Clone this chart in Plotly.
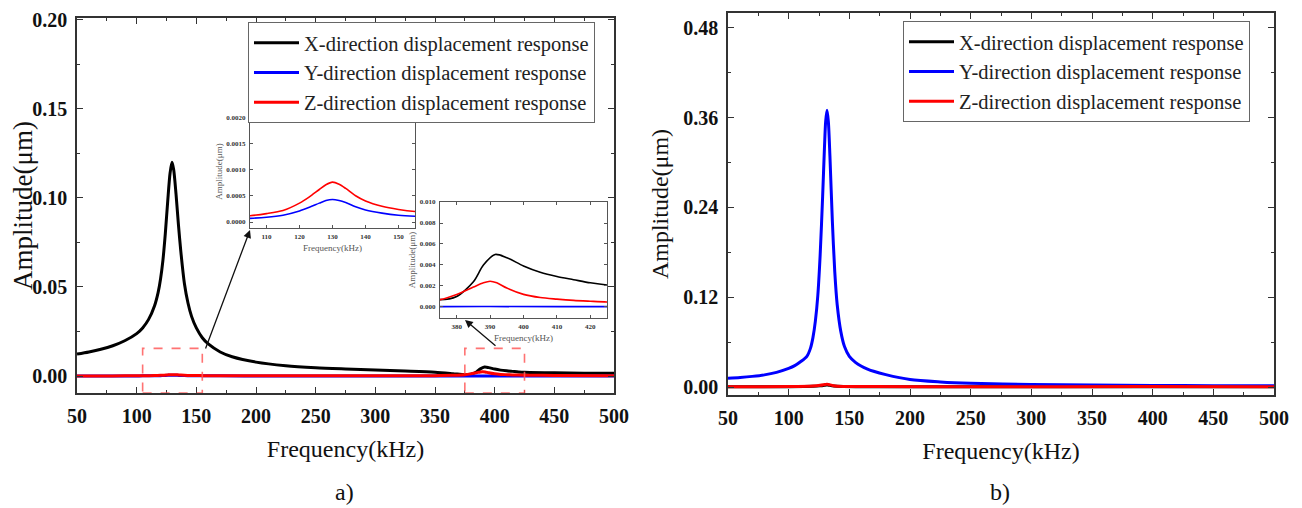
import plotly.graph_objects as go

# The page body has an 8px margin, so the figure is sized and positioned to compensate.
OFF = 8
W, H = 1302 - OFF, 508 - OFF
FONT = "Liberation Serif"

# ---------------- data: panel a) ----------------
freq_a_x = [50, 60, 70, 80, 90, 100, 105, 110, 115, 118, 120, 122, 124, 126, 128, 129.6, 131, 133, 135, 137,
            140, 143, 146, 150, 155, 160, 170, 180, 200, 225, 250, 275, 300, 325, 350, 365, 375, 380, 385,
            388, 391.5, 395, 400, 405, 410, 415, 420, 425, 450, 475, 500]
amp_a_x = [0.0123, 0.0135, 0.0150, 0.0170, 0.0198, 0.0238, 0.0270, 0.0318, 0.0395, 0.0470, 0.0545, 0.0650,
           0.0800, 0.0980, 0.1140, 0.1200, 0.1160, 0.1020, 0.0850, 0.0700, 0.0520, 0.0410, 0.0335, 0.0270,
           0.0215, 0.0180, 0.0135, 0.0108, 0.0078, 0.0058, 0.0047, 0.0040, 0.0034, 0.0028, 0.0021, 0.0013,
           0.0007, 0.0010, 0.0024, 0.0040, 0.0050, 0.0047, 0.0039, 0.0033, 0.0029, 0.0026, 0.0023, 0.0021,
           0.0018, 0.0016, 0.0015]

freq_a_y = [50, 70, 90, 100, 105, 110, 115, 120, 123, 126, 128, 130, 132, 134, 137, 140, 145, 150, 155, 170,
            200, 300, 375, 390, 425, 500]
amp_a_y = [0.00003, 0.00004, 0.00005, 0.00006, 0.00007, 0.00009, 0.00013, 0.00021, 0.00028, 0.00036, 0.00041,
           0.00043, 0.00041, 0.00037, 0.00029, 0.00023, 0.00017, 0.00013, 0.00011, 0.00008, 0.00006, 0.00004,
           0.00003, 0.00004, 0.00003, 0.00002]

freq_a_z = [50, 70, 90, 100, 105, 110, 115, 120, 123, 126, 128, 130, 132, 134, 137, 140, 145, 150, 155, 170,
            200, 250, 300, 350, 365, 375, 380, 385, 388, 390, 392, 395, 400, 405, 410, 415, 420, 425, 450, 500]
amp_a_z = [0.00005, 0.00006, 0.00008, 0.00010, 0.00012, 0.00016, 0.00022, 0.00036, 0.00048, 0.00062, 0.00071,
           0.00076, 0.00072, 0.00064, 0.00050, 0.00040, 0.00030, 0.00024, 0.00020, 0.00015, 0.00012, 0.00010,
           0.00012, 0.00020, 0.00040, 0.00070, 0.00120, 0.00190, 0.00230, 0.00245, 0.00230, 0.00180, 0.00120,
           0.00090, 0.00075, 0.00063, 0.00055, 0.00048, 0.00030, 0.00020]

# ---------------- data: panel b) ----------------
freq_b_x = [50, 100, 120, 126, 130, 131.6, 133, 137, 145, 170, 250, 390, 500]
amp_b_x = [0.0002, 0.0004, 0.0009, 0.0015, 0.0024, 0.0028, 0.0024, 0.0013, 0.0007, 0.0004, 0.0003, 0.0004, 0.0002]

freq_b_y = [50, 60, 70, 80, 90, 100, 105, 110, 115, 118, 120, 122, 124, 126, 128, 129.5, 130.5, 131.6, 132.7,
            134, 136, 138, 140, 143, 146, 150, 155, 160, 165, 170, 180, 200, 225, 250, 300, 350, 400, 450, 500]
amp_b_y = [0.0118, 0.0128, 0.0142, 0.0162, 0.0196, 0.0248, 0.0285, 0.0340, 0.0410, 0.0520, 0.0660, 0.0880,
           0.1220, 0.1780, 0.2550, 0.3200, 0.3550, 0.3700, 0.3550, 0.3090, 0.2220, 0.1540, 0.1100, 0.0740,
           0.0540, 0.0410, 0.0330, 0.0278, 0.0240, 0.0210, 0.0165, 0.0100, 0.0068, 0.0050, 0.0034, 0.0026,
           0.0021, 0.0017, 0.0015]

freq_b_z = [50, 100, 120, 126, 130, 131.6, 133, 137, 145, 170, 250, 390, 500]
amp_b_z = [0.0003, 0.0005, 0.0012, 0.0022, 0.0034, 0.0038, 0.0034, 0.0018, 0.0008, 0.0005, 0.0003, 0.0005, 0.0002]

series_names = ["X-direction displacement response",
                "Y-direction displacement response",
                "Z-direction displacement response"]
series_colors = ["#000000", "#0000ff", "#ff0000"]

panel_a = [(freq_a_x, amp_a_x), (freq_a_y, amp_a_y), (freq_a_z, amp_a_z)]
panel_b = [(freq_b_x, amp_b_x), (freq_b_y, amp_b_y), (freq_b_z, amp_b_z)]

fig = go.Figure()

for i, (fx, fy) in enumerate(panel_a):
    fig.add_trace(go.Scatter(x=fx, y=fy, mode="lines", name=series_names[i],
                             line=dict(color=series_colors[i], width=3, shape="spline", smoothing=0.8),
                             xaxis="x", yaxis="y", legend="legend"))
for i, (fx, fy) in enumerate(panel_b):
    fig.add_trace(go.Scatter(x=fx, y=fy, mode="lines", name=series_names[i],
                             line=dict(color=series_colors[i], width=3, shape="spline", smoothing=0.8),
                             xaxis="x2", yaxis="y2", legend="legend2"))
# insets (only panel a)
for i, (fx, fy) in enumerate(panel_a):
    if i == 0:
        continue
    fig.add_trace(go.Scatter(x=fx, y=fy, mode="lines", showlegend=False,
                             line=dict(color=series_colors[i], width=1.6, shape="spline", smoothing=0.8),
                             xaxis="x3", yaxis="y3"))
for i, (fx, fy) in enumerate(panel_a):
    fig.add_trace(go.Scatter(x=fx, y=fy, mode="lines", showlegend=False,
                             line=dict(color=series_colors[i], width=1.6, shape="spline", smoothing=0.8),
                             xaxis="x4", yaxis="y4"))


def px_x(v):
    return (v - OFF) / W


def px_y(v):
    return 1 - (v - OFF) / H


def xd(l, r):
    return [px_x(l), px_x(r)]


def yd(t, b):
    return [px_y(b), px_y(t)]


def main_axis(domain, rng, dtick, minor, fmt, title, tsize, standoff, anchor):
    return dict(domain=domain, range=rng, dtick=dtick, tick0=0, tickformat=fmt,
                showline=True, linecolor="#333333", linewidth=1.5, mirror="ticks",
                ticks="inside", ticklen=6, tickwidth=1.3, tickcolor="#333333",
                minor=dict(ticks="inside", ticklen=3, dtick=minor, tickwidth=1.2, tickcolor="#333333"),
                showgrid=False, zeroline=False, automargin=False, anchor=anchor,
                tickfont=dict(family=FONT, size=20, color="#111111", weight="bold"),
                ticklabelstandoff=4, ticklabeloverflow="allow",
                title=dict(text=title, font=dict(family=FONT, size=tsize, color="#111111"), standoff=standoff))


def inset_axis(domain, rng, dtick, fmt, title, standoff, anchor):
    return dict(domain=domain, range=rng, dtick=dtick, tick0=0, tickformat=fmt,
                showline=True, linecolor="#555555", linewidth=1, mirror="ticks",
                ticks="inside", ticklen=3, tickwidth=1, tickcolor="#555555",
                showgrid=False, zeroline=False, automargin=False, anchor=anchor,
                tickfont=dict(family=FONT, size=7, color="#333333", weight="bold"),
                ticklabelstandoff=2, ticklabeloverflow="allow",
                title=dict(text=title, font=dict(family=FONT, size=9, color="#555555"), standoff=standoff))


fig.update_layout(
    width=W, height=H, margin=dict(l=0, r=0, t=0, b=0),
    paper_bgcolor="white", plot_bgcolor="white",
    font=dict(family=FONT),
    xaxis=main_axis(xd(77, 614), [50, 500], 50, 25, "d", "Frequency(kHz)", 24, 14, "y"),
    yaxis=main_axis(yd(18, 393), [-0.00955, 0.2011], 0.05, 0.025, ".2f", "Amplitude(μm)", 27, 4, "x"),
    xaxis2=main_axis(xd(728, 1274), [50, 500], 50, 25, "d", "Frequency(kHz)", 24, 14, "y2"),
    yaxis2=main_axis(yd(13, 395), [-0.0107, 0.50], 0.12, 0.06, ".2f", "Amplitude(μm)", 24, 8, "x2"),
    xaxis3=inset_axis(xd(250, 415), [105, 155], 10, "d", "Frequency(kHz)", 4, "y3"),
    yaxis3=inset_axis(yd(115, 228), [-0.000114, 0.00204], 0.0005, ".4f", "Amplitude(μm)", 2, "x3"),
    xaxis4=inset_axis(xd(440, 607), [375, 425], 10, "d", "Frequency(kHz)", 4, "y4"),
    yaxis4=inset_axis(yd(202, 318), [-0.00105, 0.0100], 0.002, ".3f", "Amplitude(μm)", 2, "x4"),
    legend=dict(x=px_x(248), y=px_y(22), xanchor="left", yanchor="top", bgcolor="white",
                bordercolor="#666666", borderwidth=1, itemwidth=45,
                font=dict(family=FONT, size=20.5, color="#222222"), tracegroupgap=0),
    legend2=dict(x=px_x(903), y=px_y(21), xanchor="left", yanchor="top", bgcolor="white",
                 bordercolor="#666666", borderwidth=1, itemwidth=45,
                 font=dict(family=FONT, size=20.5, color="#222222"), tracegroupgap=0),
    showlegend=True,
)

# dashed zoom boxes
for x0, x1 in [(105, 155), (375, 425)]:
    fig.add_shape(type="rect", xref="x", yref="y", x0=x0, x1=x1, y0=-0.00955, y1=0.0155,
                  line=dict(color="rgba(255,90,90,0.85)", width=1.6, dash="dash"), layer="above")

# arrows from boxes to insets
fig.add_annotation(xref="paper", yref="paper", x=px_x(250), y=px_y(230), ax=-45, ay=120,
                   text="", showarrow=True, arrowhead=2, arrowsize=1.2, arrowwidth=1.3, arrowcolor="#111111")
fig.add_annotation(xref="paper", yref="paper", x=px_x(465), y=px_y(320), ax=32, ay=27,
                   text="", showarrow=True, arrowhead=2, arrowsize=1.2, arrowwidth=1.3, arrowcolor="#111111")

# panel labels
fig.add_annotation(xref="paper", yref="paper", x=px_x(345), y=px_y(492), text="a)", showarrow=False,
                   xanchor="center", yanchor="middle", font=dict(family=FONT, size=24, color="#111111"))
fig.add_annotation(xref="paper", yref="paper", x=px_x(1000), y=px_y(492), text="b)", showarrow=False,
                   xanchor="center", yanchor="middle", font=dict(family=FONT, size=24, color="#111111"))

fig.write_html("out.html")
